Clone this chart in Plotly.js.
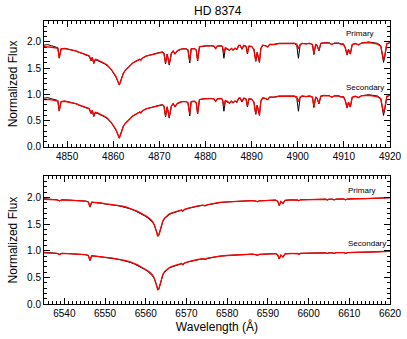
<!DOCTYPE html>
<html>
<head>
<meta charset="utf-8">
<script src="https://cdn.plot.ly/plotly-3.0.1.min.js"></script>
<style>
  html, body { margin: 0; padding: 0; background: #fff; }
  #chart { width: 407px; height: 339px; }
</style>
</head>
<body>
<div id="chart"></div>
<script>
// ==========================================================
// HD 8374 - espectros desemaranhados (observado x modelo)
// ==========================================================

// --- Região de H-beta (Å) ---
const hbWave = [
  4845.0, 4845.8, 4846.6, 4847.4, 4848.0, 4848.3, 4848.7, 4849.5, 4850.5, 4851.3,
  4851.9, 4852.3, 4852.7, 4853.4, 4854.1, 4854.8, 4855.2, 4855.45, 4855.8, 4856.1,
  4856.5, 4857.0, 4857.6, 4858.1, 4858.7, 4859.2, 4859.6, 4859.9, 4860.3, 4860.6,
  4861.0, 4861.3, 4861.5, 4861.7, 4862.0, 4862.2, 4862.6, 4863.1, 4863.6, 4864.2,
  4864.8, 4865.3, 4865.8, 4866.0, 4866.3, 4867.1, 4868.0, 4868.6, 4869.3, 4870.0,
  4870.7, 4871.0, 4871.35, 4871.7, 4872.15, 4872.6, 4873.0, 4873.4, 4873.9, 4874.5,
  4875.0, 4875.8, 4876.2, 4876.6, 4876.9, 4877.6, 4878.0, 4878.3, 4878.7, 4879.7,
  4881.1, 4881.8, 4882.2, 4882.6, 4883.4, 4883.7, 4884.0, 4884.3, 4884.8, 4885.2,
  4885.6, 4886.0, 4886.4, 4886.8, 4887.2, 4887.5, 4887.9, 4888.3, 4888.8, 4889.1,
  4889.4, 4890.0, 4890.5, 4890.9, 4891.2, 4891.7, 4892.0, 4892.4, 4893.1, 4893.5,
  4893.9, 4894.8, 4895.9, 4897.0, 4898.3, 4899.3, 4899.8, 4900.15, 4900.5, 4900.9,
  4901.8, 4902.6, 4903.2, 4903.5, 4903.9, 4904.2, 4904.6, 4905.0, 4905.6, 4906.8,
  4907.4, 4907.9, 4908.9, 4909.4, 4909.9, 4910.3, 4910.7, 4911.0, 4911.4, 4911.8,
  4912.5, 4913.2, 4913.8, 4915.4, 4916.5, 4917.3, 4918.0, 4918.6, 4918.9, 4919.3,
  4920.0
];

const hbPrimModel = [
  0.91, 0.91, 0.90, 0.89, 0.88, 0.69, 0.87, 0.875, 0.86, 0.845,
  0.83, 0.82, 0.80, 0.78, 0.75, 0.735, 0.65, 0.71, 0.60, 0.67,
  0.665, 0.645, 0.62, 0.595, 0.56, 0.52, 0.475, 0.435, 0.385, 0.34,
  0.25, 0.18, 0.22, 0.28, 0.36, 0.40, 0.455, 0.50, 0.55, 0.595,
  0.625, 0.645, 0.67, 0.65, 0.69, 0.73, 0.75, 0.765, 0.785, 0.80,
  0.805, 0.785, 0.60, 0.77, 0.58, 0.785, 0.83, 0.775, 0.835, 0.86,
  0.87, 0.87, 0.85, 0.64, 0.87, 0.875, 0.85, 0.645, 0.91, 0.925,
  0.93, 0.925, 0.875, 0.925, 0.93, 0.91, 0.79, 0.89, 0.87, 0.84,
  0.88, 0.85, 0.885, 0.86, 0.935, 0.94, 0.87, 0.935, 0.92, 0.79,
  0.92, 0.915, 0.86, 0.64, 0.80, 0.62, 0.88, 0.94, 0.925, 0.905,
  0.955, 0.95, 0.97, 0.975, 0.97, 0.975, 0.96, 0.87, 0.955, 0.975,
  0.965, 0.975, 0.955, 0.78, 0.96, 0.93, 0.84, 0.975, 0.985, 0.98,
  0.95, 0.975, 0.975, 0.955, 0.96, 0.89, 0.75, 0.86, 0.77, 0.95,
  0.97, 0.945, 0.98, 0.99, 0.975, 0.96, 0.92, 0.66, 0.76, 0.97,
  0.99
];

const hbPrimObs = [
  0.94, 0.95, 0.93, 0.91, 0.89, 0.70, 0.87, 0.88, 0.865, 0.85,
  0.83, 0.81, 0.80, 0.78, 0.75, 0.73, 0.64, 0.70, 0.59, 0.66,
  0.65, 0.63, 0.61, 0.585, 0.55, 0.51, 0.47, 0.43, 0.38, 0.33,
  0.25, 0.19, 0.23, 0.29, 0.37, 0.41, 0.46, 0.51, 0.56, 0.60,
  0.63, 0.65, 0.675, 0.66, 0.69, 0.73, 0.755, 0.77, 0.79, 0.80,
  0.81, 0.79, 0.58, 0.77, 0.56, 0.78, 0.83, 0.77, 0.83, 0.855,
  0.87, 0.87, 0.85, 0.60, 0.87, 0.875, 0.85, 0.64, 0.905, 0.92,
  0.93, 0.92, 0.87, 0.92, 0.925, 0.90, 0.69, 0.88, 0.86, 0.84,
  0.87, 0.84, 0.88, 0.85, 0.93, 0.935, 0.86, 0.93, 0.92, 0.77,
  0.92, 0.915, 0.86, 0.63, 0.80, 0.61, 0.87, 0.94, 0.925, 0.905,
  0.955, 0.955, 0.975, 0.98, 0.975, 0.975, 0.93, 0.69, 0.93, 0.975,
  0.965, 0.975, 0.95, 0.76, 0.955, 0.93, 0.83, 0.97, 0.985, 0.985,
  0.95, 0.98, 0.98, 0.96, 0.965, 0.89, 0.76, 0.86, 0.77, 0.95,
  0.97, 0.945, 0.98, 1.00, 0.99, 0.975, 0.93, 0.61, 0.74, 0.96,
  0.99
];

const hbSecModel = [
  0.90, 0.905, 0.895, 0.885, 0.875, 0.68, 0.865, 0.87, 0.855, 0.84,
  0.825, 0.815, 0.795, 0.775, 0.745, 0.73, 0.645, 0.70, 0.59, 0.66,
  0.655, 0.635, 0.61, 0.585, 0.55, 0.51, 0.465, 0.425, 0.375, 0.33,
  0.24, 0.165, 0.21, 0.27, 0.35, 0.39, 0.445, 0.49, 0.54, 0.585,
  0.615, 0.64, 0.665, 0.645, 0.685, 0.725, 0.745, 0.76, 0.78, 0.795,
  0.80, 0.78, 0.59, 0.765, 0.57, 0.78, 0.825, 0.77, 0.83, 0.855,
  0.865, 0.865, 0.845, 0.63, 0.865, 0.87, 0.845, 0.635, 0.905, 0.92,
  0.925, 0.92, 0.87, 0.92, 0.925, 0.905, 0.78, 0.885, 0.865, 0.835,
  0.875, 0.845, 0.88, 0.855, 0.93, 0.935, 0.865, 0.93, 0.915, 0.78,
  0.915, 0.91, 0.855, 0.63, 0.795, 0.61, 0.875, 0.935, 0.92, 0.90,
  0.95, 0.945, 0.965, 0.97, 0.965, 0.97, 0.955, 0.86, 0.95, 0.97,
  0.96, 0.97, 0.95, 0.77, 0.955, 0.925, 0.83, 0.97, 0.98, 0.975,
  0.945, 0.97, 0.97, 0.95, 0.955, 0.885, 0.74, 0.855, 0.76, 0.945,
  0.965, 0.94, 0.975, 0.985, 0.97, 0.955, 0.915, 0.65, 0.75, 0.965,
  0.985
];

const hbSecObs = [
  0.93, 0.94, 0.92, 0.90, 0.885, 0.69, 0.865, 0.875, 0.86, 0.845,
  0.825, 0.805, 0.795, 0.775, 0.745, 0.725, 0.635, 0.69, 0.58, 0.65,
  0.645, 0.62, 0.60, 0.575, 0.54, 0.50, 0.46, 0.42, 0.37, 0.32,
  0.24, 0.175, 0.22, 0.28, 0.36, 0.40, 0.45, 0.50, 0.55, 0.59,
  0.62, 0.645, 0.67, 0.655, 0.685, 0.725, 0.75, 0.765, 0.785, 0.795,
  0.805, 0.785, 0.57, 0.765, 0.55, 0.775, 0.825, 0.765, 0.825, 0.85,
  0.865, 0.865, 0.845, 0.59, 0.865, 0.87, 0.845, 0.63, 0.90, 0.915,
  0.925, 0.915, 0.865, 0.915, 0.92, 0.895, 0.68, 0.875, 0.855, 0.835,
  0.865, 0.835, 0.875, 0.845, 0.925, 0.93, 0.855, 0.925, 0.915, 0.76,
  0.915, 0.91, 0.855, 0.62, 0.795, 0.60, 0.865, 0.935, 0.92, 0.90,
  0.95, 0.95, 0.97, 0.975, 0.97, 0.97, 0.925, 0.68, 0.925, 0.97,
  0.96, 0.97, 0.945, 0.75, 0.95, 0.925, 0.82, 0.965, 0.98, 0.98,
  0.945, 0.975, 0.975, 0.955, 0.96, 0.885, 0.75, 0.855, 0.76, 0.945,
  0.965, 0.94, 0.975, 0.995, 0.985, 0.97, 0.925, 0.60, 0.73, 0.955,
  0.985
];

// --- Região de H-alpha (Å) ---
const haWave = [
  6535.0, 6536.5, 6538.2, 6538.8, 6539.4, 6541.0, 6542.5, 6543.8, 6544.5, 6545.2,
  6545.9, 6546.3, 6546.7, 6547.8, 6549.0, 6550.2, 6551.5, 6552.7, 6554.0, 6555.1,
  6556.2, 6557.2, 6558.0, 6558.8, 6559.7, 6560.5, 6561.2, 6561.7, 6562.1, 6562.4,
  6562.7, 6562.95, 6563.2, 6563.5, 6563.8, 6564.2, 6564.6, 6565.2, 6565.8, 6566.6,
  6567.4, 6568.3, 6568.8, 6569.1, 6569.5, 6570.5, 6571.5, 6572.8, 6574.0, 6574.6,
  6575.2, 6576.4, 6578.1, 6580.0, 6582.1, 6584.0, 6586.2, 6587.0, 6587.4, 6587.9,
  6589.5, 6591.9, 6592.4, 6592.8, 6593.2, 6593.7, 6594.2, 6595.5, 6597.2, 6597.6,
  6598.0, 6600.0, 6602.5, 6604.2, 6604.6, 6605.0, 6605.8, 6606.3, 6606.8, 6608.6,
  6609.1, 6609.6, 6611.5, 6613.2, 6613.6, 6614.0, 6617.0, 6620.0
];

const haPrimModel = [
  0.965, 0.96, 0.955, 0.935, 0.955, 0.95, 0.945, 0.935, 0.935, 0.93,
  0.915, 0.82, 0.91, 0.905, 0.895, 0.88, 0.87, 0.855, 0.84, 0.82,
  0.795, 0.77, 0.74, 0.705, 0.67, 0.63, 0.585, 0.545, 0.49, 0.43,
  0.34, 0.27, 0.29, 0.37, 0.48, 0.56, 0.61, 0.655, 0.69, 0.715,
  0.735, 0.755, 0.765, 0.745, 0.775, 0.80, 0.82, 0.84, 0.855, 0.845,
  0.865, 0.885, 0.905, 0.915, 0.925, 0.93, 0.94, 0.93, 0.92, 0.935,
  0.945, 0.95, 0.93, 0.85, 0.925, 0.885, 0.945, 0.955, 0.955, 0.94,
  0.955, 0.96, 0.965, 0.965, 0.955, 0.965, 0.965, 0.955, 0.968, 0.97,
  0.955, 0.97, 0.975, 0.975, 0.965, 0.978, 0.985, 0.995
];

const haPrimObs = [
  0.975, 0.965, 0.955, 0.935, 0.955, 0.95, 0.945, 0.935, 0.925, 0.93,
  0.915, 0.82, 0.91, 0.905, 0.89, 0.875, 0.865, 0.85, 0.83, 0.81,
  0.785, 0.755, 0.725, 0.69, 0.655, 0.615, 0.57, 0.53, 0.48, 0.43,
  0.35, 0.28, 0.29, 0.37, 0.47, 0.55, 0.60, 0.645, 0.68, 0.705,
  0.73, 0.75, 0.76, 0.735, 0.77, 0.795, 0.815, 0.835, 0.85, 0.84,
  0.86, 0.88, 0.90, 0.915, 0.925, 0.935, 0.94, 0.93, 0.92, 0.935,
  0.945, 0.95, 0.93, 0.85, 0.925, 0.885, 0.945, 0.955, 0.95, 0.935,
  0.955, 0.96, 0.965, 0.965, 0.95, 0.965, 0.965, 0.955, 0.968, 0.97,
  0.955, 0.97, 0.975, 0.975, 0.965, 0.978, 0.985, 0.995
];

const haSecModel = [
  0.96, 0.955, 0.95, 0.93, 0.95, 0.945, 0.94, 0.93, 0.93, 0.925,
  0.91, 0.815, 0.905, 0.90, 0.89, 0.875, 0.865, 0.85, 0.835, 0.815,
  0.79, 0.765, 0.735, 0.70, 0.665, 0.625, 0.58, 0.54, 0.485, 0.425,
  0.335, 0.26, 0.28, 0.36, 0.47, 0.555, 0.605, 0.65, 0.685, 0.71,
  0.73, 0.75, 0.76, 0.74, 0.77, 0.795, 0.815, 0.835, 0.85, 0.84,
  0.86, 0.88, 0.90, 0.91, 0.92, 0.925, 0.935, 0.925, 0.915, 0.93,
  0.94, 0.945, 0.925, 0.845, 0.92, 0.88, 0.94, 0.95, 0.95, 0.935,
  0.95, 0.955, 0.96, 0.96, 0.95, 0.96, 0.96, 0.95, 0.963, 0.965,
  0.95, 0.965, 0.97, 0.97, 0.96, 0.973, 0.98, 0.99
];

const haSecObs = [
  0.97, 0.96, 0.95, 0.93, 0.95, 0.945, 0.94, 0.93, 0.92, 0.925,
  0.91, 0.815, 0.905, 0.90, 0.885, 0.87, 0.86, 0.845, 0.825, 0.805,
  0.78, 0.75, 0.72, 0.685, 0.65, 0.61, 0.565, 0.525, 0.475, 0.425,
  0.345, 0.27, 0.28, 0.36, 0.46, 0.545, 0.595, 0.64, 0.675, 0.70,
  0.725, 0.745, 0.755, 0.73, 0.765, 0.79, 0.81, 0.83, 0.845, 0.835,
  0.855, 0.875, 0.895, 0.91, 0.92, 0.93, 0.935, 0.925, 0.915, 0.93,
  0.94, 0.945, 0.925, 0.845, 0.92, 0.88, 0.94, 0.95, 0.945, 0.93,
  0.95, 0.955, 0.96, 0.96, 0.945, 0.96, 0.96, 0.95, 0.963, 0.965,
  0.95, 0.965, 0.97, 0.97, 0.96, 0.973, 0.98, 0.99
];

// Deslocamento vertical aplicado ao espectro da primária
const primaryOffset = 1.0;

const FONT = "Liberation Sans, Arial, Helvetica, sans-serif";
const OBS_COLOR = "#000000";
const MODEL_COLOR = "#ff0000";

function specTrace(wave, flux, offset, color, width, xa, ya) {
  return {
    x: wave,
    y: flux.map((v) => v + offset),
    type: "scatter",
    mode: "lines",
    line: { color: color, width: width },
    xaxis: xa,
    yaxis: ya,
    hoverinfo: "skip",
    showlegend: false,
  };
}

const traces = [
  // painel superior (H-beta)
  specTrace(hbWave, hbSecObs, 0, OBS_COLOR, 1, "x", "y"),
  specTrace(hbWave, hbSecModel, 0, MODEL_COLOR, 1.3, "x", "y"),
  specTrace(hbWave, hbPrimObs, primaryOffset, OBS_COLOR, 1, "x", "y"),
  specTrace(hbWave, hbPrimModel, primaryOffset, MODEL_COLOR, 1.3, "x", "y"),
  // painel inferior (H-alpha)
  specTrace(haWave, haSecObs, 0, OBS_COLOR, 1, "x2", "y2"),
  specTrace(haWave, haSecModel, 0, MODEL_COLOR, 1.3, "x2", "y2"),
  specTrace(haWave, haPrimObs, primaryOffset, OBS_COLOR, 1, "x2", "y2"),
  specTrace(haWave, haPrimModel, primaryOffset, MODEL_COLOR, 1.3, "x2", "y2"),
];

const axisCommon = {
  showline: true,
  linecolor: "#000",
  linewidth: 1,
  mirror: "ticks",
  ticks: "inside",
  ticklen: 6,
  tickwidth: 1,
  tickcolor: "#000",
  showgrid: false,
  zeroline: false,
  automargin: false,
  tickfont: { family: FONT, size: 10, color: "#000" },
};

function xAxis(range, anchor, title) {
  return Object.assign({}, axisCommon, {
    range: range,
    anchor: anchor,
    dtick: 10,
    tick0: 0,
    minor: { dtick: 1, ticks: "inside", ticklen: 3, tickcolor: "#000", showgrid: false },
    title: title ? { text: title, font: { family: FONT, size: 12, color: "#000" }, standoff: 4 } : { text: "" },
  });
}

function yAxis(domain, anchor) {
  return Object.assign({}, axisCommon, {
    domain: domain,
    anchor: anchor,
    range: [0, 2.4],
    dtick: 0.5,
    tick0: 0,
    tickformat: ".1f",
    minor: { dtick: 0.1, ticks: "inside", ticklen: 3, tickcolor: "#000", showgrid: false },
    title: { text: "Normalized Flux", font: { family: FONT, size: 12, color: "#000" }, standoff: 6 },
  });
}

const labelFont = { family: FONT, size: 8, color: "#000" };
function compLabel(text, x, y, xref, yref) {
  return { text: text, x: x, y: y, xref: xref, yref: yref, xanchor: "left", yanchor: "middle", showarrow: false, font: labelFont };
}

const layout = {
  width: 407,
  height: 339,
  margin: { l: 44, r: 17, t: 21, b: 35 },
  paper_bgcolor: "#fff",
  plot_bgcolor: "#fff",
  showlegend: false,
  title: {
    text: "HD 8374",
    font: { family: FONT, size: 12, color: "#000" },
    x: 0.535, xref: "container", xanchor: "center",
    y: 0.967, yref: "container", yanchor: "middle",
  },
  xaxis: xAxis([4845, 4920], "y", null),
  yaxis: yAxis([0.555, 1], "x"),
  xaxis2: xAxis([6535, 6620], "y2", "Wavelength (Å)"),
  yaxis2: yAxis([0, 0.452], "x2"),
  annotations: [
    compLabel("Primary", 4910.0, 2.16, "x", "y"),
    compLabel("Secondary", 4910.0, 1.14, "x", "y"),
    compLabel("Primary", 6609.3, 2.13, "x2", "y2"),
    compLabel("Secondary", 6609.3, 1.13, "x2", "y2"),
  ],
};

Plotly.newPlot("chart", traces, layout, { staticPlot: true, displayModeBar: false });
</script>
</body>
</html>
